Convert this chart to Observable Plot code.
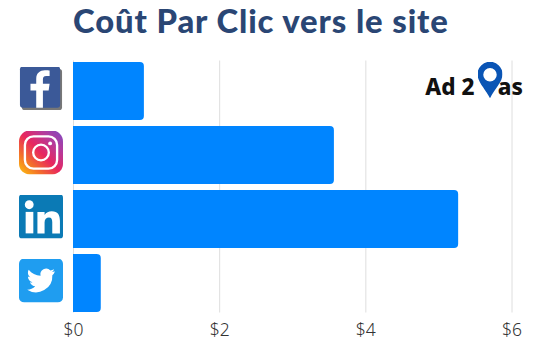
<!DOCTYPE html>
<html>
<head>
<meta charset="utf-8">
<script src="https://cdn.jsdelivr.net/npm/d3@7"></script>
<script src="https://cdn.jsdelivr.net/npm/@observablehq/plot@0.6"></script>
<style>
html,body{margin:0;padding:0;background:#fff;}
#title{height:50px;padding-left:73px;font:900 32.8px/42px "Lato",sans-serif;color:#2a4674;white-space:nowrap;letter-spacing:0.9px;box-sizing:border-box;}
svg{display:block;}
svg [aria-label="x-axis tick label"] text{font-family:"Noto Sans",sans-serif !important;font-weight:300;font-size:17.5px;}
svg [aria-label="text"] text{font-family:"Noto Sans",sans-serif !important;}
</style>
</head>
<body>
<div id="title"></div>
<div id="chart"></div>
<script>
const chartTitle = "Coût Par Clic vers le site";
const platforms = ["Facebook", "Instagram", "LinkedIn", "Twitter"];
const costs = [0.97, 3.57, 5.27, 0.38];
const tickValues = [0, 2, 4, 6];
const brandName = "Ad 2    as";

const svgUri = s => "data:image/svg+xml;utf8," + encodeURIComponent(s);
const icons = {
  Facebook: `<svg xmlns="http://www.w3.org/2000/svg" viewBox="0 0 44 46"><rect x="2" y="2.500" width="42" height="43" rx="3" fill="#777"/><rect x="0" y="0" width="42" height="43" rx="3" fill="#3b5998"/><path d="M17 43V25h-6v-7h6v-5c0-6 4-9 9-9 2.500 0 4.500.2 5 .3V10h-3.500c-2.800 0-3.500 1.400-3.500 3.400V18h7l-1 7h-6v18z" fill="#fff"/></svg>`,
  Instagram: `<svg xmlns="http://www.w3.org/2000/svg" viewBox="0 0 41 41"><defs><linearGradient id="g" x1="0" y1="1" x2="1" y2="0"><stop offset="0" stop-color="#fdc70c"/><stop offset=".25" stop-color="#f3702a"/><stop offset=".5" stop-color="#e8265f"/><stop offset=".75" stop-color="#b53a9c"/><stop offset="1" stop-color="#7b4bc4"/></linearGradient></defs><rect width="41" height="41" rx="10" fill="url(#g)"/><rect x="5.500" y="5.500" width="30" height="30" rx="8" fill="none" stroke="#fff" stroke-width="2.200"/><circle cx="20.500" cy="20.500" r="7.300" fill="none" stroke="#fff" stroke-width="2.200"/><circle cx="29" cy="12" r="1.800" fill="#fff"/></svg>`,
  LinkedIn: `<svg xmlns="http://www.w3.org/2000/svg" viewBox="0 0 43 43"><rect width="43" height="43" rx="3" fill="#0b7ab5"/><circle cx="10" cy="10" r="4.300" fill="#fff"/><rect x="6.500" y="17" width="7.500" height="21" fill="#fff"/><path d="M18 17h7v3c1.500-2.300 4-3.600 7-3.600 6 0 8 3.600 8 9.600v12h-7.500V27c0-2.800-.8-4.500-3.200-4.500-2.500 0-4.300 1.700-4.300 4.800V38H18z" fill="#fff"/></svg>`,
  Twitter: `<svg xmlns="http://www.w3.org/2000/svg" viewBox="0 0 43 43"><rect width="43" height="43" rx="5" fill="#1f9df0"/><path d="M35 12.500c-1 .5-2 .8-3.200.9 1.200-.7 2-1.800 2.400-3-1.100.6-2.300 1.100-3.500 1.300a5.600 5.600 0 0 0-9.600 5.100c-4.700-.2-8.800-2.400-11.600-5.900-1.500 2.600-.7 5.800 1.700 7.500-.9 0-1.700-.3-2.500-.7 0 2.700 1.900 5 4.500 5.500-.8.200-1.700.3-2.500.1.700 2.200 2.800 3.800 5.200 3.900A11.300 11.300 0 0 1 8 30.500 16 16 0 0 0 32.600 16.300c1-.8 1.800-1.700 2.400-3.800z" fill="#fff"/></svg>`
};
const pin = svgUri(`<svg xmlns="http://www.w3.org/2000/svg" viewBox="0 0 26 38"><path fill-rule="evenodd" d="M13 0a13 13 0 0 1 13 13c0 8-8 15-13 25C8 28 0 21 0 13A13 13 0 0 1 13 0zm0 6.500a7 7 0 1 0 0 14 7 7 0 0 0 0-14z" fill="#0a55b5"/></svg>`);

const rows = platforms.map((p, i) => ({platform: p, cost: costs[i], src: svgUri(icons[p])}));

document.getElementById("title").textContent = chartTitle;

const plot = Plot.plot({
  width: 540,
  height: 305,
  marginLeft: 73,
  marginRight: 28.500,
  marginTop: 10.500,
  marginBottom: 42.500,
  style: {background: "#fff", fontFamily: "'Noto Sans', sans-serif"},
  x: {domain: [0, 6], label: null},
  y: {domain: platforms, label: null, axis: null, paddingInner: 0.1, paddingOuter: 0},
  marks: [
    Plot.gridX(tickValues, {stroke: "#dedede", strokeOpacity: 1}),
    Plot.barX(rows, {x: "cost", y: "platform", fill: "#0085ff", rx2: 4}),
    Plot.image(rows, {x: 0, y: "platform", src: "src", width: 44, height: 44, dx: -32.500, dy: -3}),
    Plot.axisX({ticks: tickValues, tickFormat: d => "$" + d, tickSize: 0, tickPadding: 11, fontSize: 17.500, fontWeight: 300, fill: "#333", label: null, ariaLabel: "x-axis tick label"}),
    Plot.text([brandName], {frameAnchor: "top-right", dx: 11, dy: 18, fontSize: 22.500, fontWeight: 800, fill: "#111", textAnchor: "end"}),
    Plot.image([pin], {frameAnchor: "top-right", src: d => d, width: 25, height: 37, dx: -22, dy: 19})
  ]
});
document.getElementById("chart").append(plot);
</script>
</body>
</html>
